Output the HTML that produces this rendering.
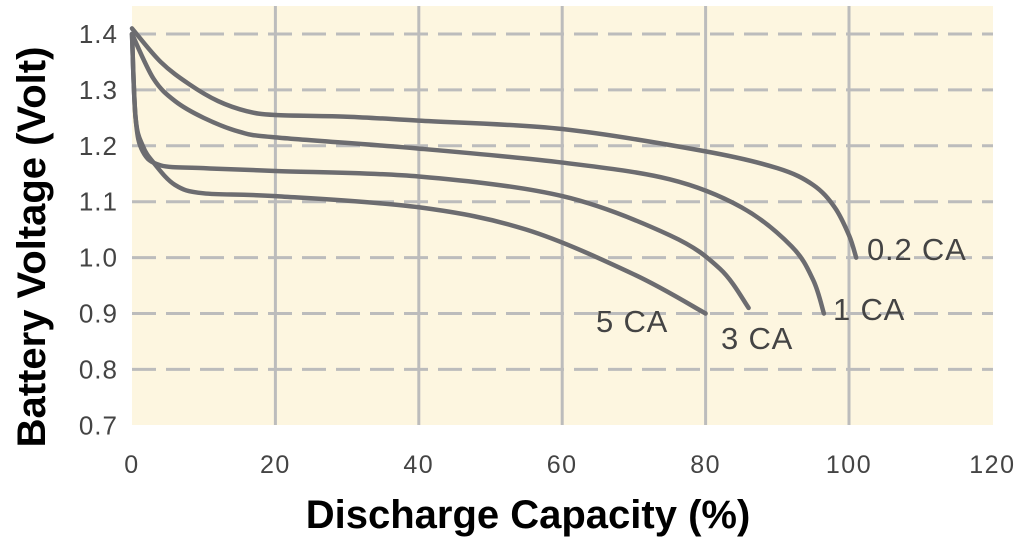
<!DOCTYPE html>
<html><head><meta charset="utf-8"><style>
body{margin:0;background:#fff;}
svg{display:block;font-family:"Liberation Sans",Arial,sans-serif;}
</style></head><body>
<svg id="chart" width="1024" height="544" viewBox="0 0 1024 544" xmlns="http://www.w3.org/2000/svg">
<rect x="132" y="6" width="861" height="419" fill="#fdf6e0"/>
<g id="grid"></g>
<g id="curves"></g>
<g id="labels"></g>
<text transform="translate(45,247) rotate(-90)" text-anchor="middle" font-size="40" font-weight="bold" fill="#000">Battery Voltage (Volt)</text>
<text x="528" y="528" text-anchor="middle" font-size="40" font-weight="bold" fill="#000">Discharge Capacity (%)</text>
</svg>
<script>
const xTicks=[0,20,40,60,80,100,120];
const yTicks=[1.4,1.3,1.2,1.1,1.0,0.9,0.8,0.7];
const yTickLabels=["1.4","1.3","1.2","1.1","1.0","0.9","0.8","0.7"];
const seriesNames=["0.2 CA","1 CA","3 CA","5 CA"];
const cap02=[0,4,8,12,16,20,30,40,60,80,90,95,98,100,101];
const volt02=[1.41,1.35,1.31,1.28,1.262,1.255,1.252,1.245,1.23,1.19,1.16,1.13,1.09,1.04,1.0];
const cap1=[0,3,6,10,15,20,40,60,75,85,92,95,96.5];
const volt1=[1.40,1.32,1.28,1.25,1.225,1.215,1.195,1.17,1.14,1.09,1.02,0.96,0.90];
const cap3=[0,0.5,1.5,4,10,20,40,60,75,82,86];
const volt3=[1.40,1.25,1.19,1.165,1.16,1.155,1.145,1.11,1.04,0.98,0.91];
const cap5=[0,0.5,1.5,3,6,10,20,40,55,70,80];
const volt5=[1.40,1.25,1.2,1.17,1.13,1.115,1.11,1.09,1.05,0.97,0.90];

const NS="http://www.w3.org/2000/svg";
const X=v=>132+v*7.17;
const Y=v=>34+(1.4-v)*559;
function mk(tag,attrs,parent){const e=document.createElementNS(NS,tag);for(const k in attrs)e.setAttribute(k,attrs[k]);parent.appendChild(e);return e;}
const grid=document.getElementById('grid');
xTicks.forEach(t=>{
  if(t>0&&t<120){
    const l=mk('line',{x1:X(t),x2:X(t),y1:6,y2:425,stroke:'#bcbcbc','stroke-width':3},grid);
    
    
  }
  const tx=mk('text',{x:X(t),y:473,'text-anchor':'middle','font-size':25,'letter-spacing':1.5,fill:'#444'},grid);
  tx.textContent=t;
  
  
});
yTicks.forEach((t,i)=>{
  if(i<yTicks.length-1){
    const l=mk('line',{x1:132,x2:993,y1:Y(t),y2:Y(t),stroke:'#bcbcbc','stroke-width':3,'stroke-dasharray':'24 10'},grid);
    
    
  }
  const tx=mk('text',{x:118,y:Y(t)+9,'text-anchor':'end','font-size':26,'letter-spacing':1,fill:'#444'},grid);
  tx.textContent=yTickLabels[i];
  
  
});
function path(xs,ys){
  const p=xs.map((x,i)=>[X(x),Y(ys[i])]);
  let d='M'+p[0][0]+','+p[0][1];
  for(let i=0;i<p.length-1;i++){
    const p0=p[Math.max(0,i-1)],p1=p[i],p2=p[i+1],p3=p[Math.min(p.length-1,i+2)];
    const c1=[p1[0]+(p2[0]-p0[0])/6,p1[1]+(p2[1]-p0[1])/6];
    const c2=[p2[0]-(p3[0]-p1[0])/6,p2[1]-(p3[1]-p1[1])/6];
    d+=` C${c1[0]},${c1[1]} ${c2[0]},${c2[1]} ${p2[0]},${p2[1]}`;
  }
  return d;
}
const curves=document.getElementById('curves');
[[cap02,volt02,'curve-0-2ca'],[cap1,volt1,'curve-1ca'],[cap3,volt3,'curve-3ca'],[cap5,volt5,'curve-5ca']].forEach(s=>{
  const e=mk('path',{d:path(s[0],s[1]),fill:'none',stroke:'#6c6c70','stroke-width':4.5,'stroke-linecap':'round','stroke-linejoin':'round'},curves);
  
  
});
const labels=document.getElementById('labels');
const labPos=[[867,260],[833,320],[721,349],[596,332]];
seriesNames.forEach((n,i)=>{
  const t=mk('text',{x:labPos[i][0],y:labPos[i][1],'font-size':31,'letter-spacing':0.8,fill:'#444'},labels);
  t.textContent=n;
  
  
});
</script>
</body></html>
